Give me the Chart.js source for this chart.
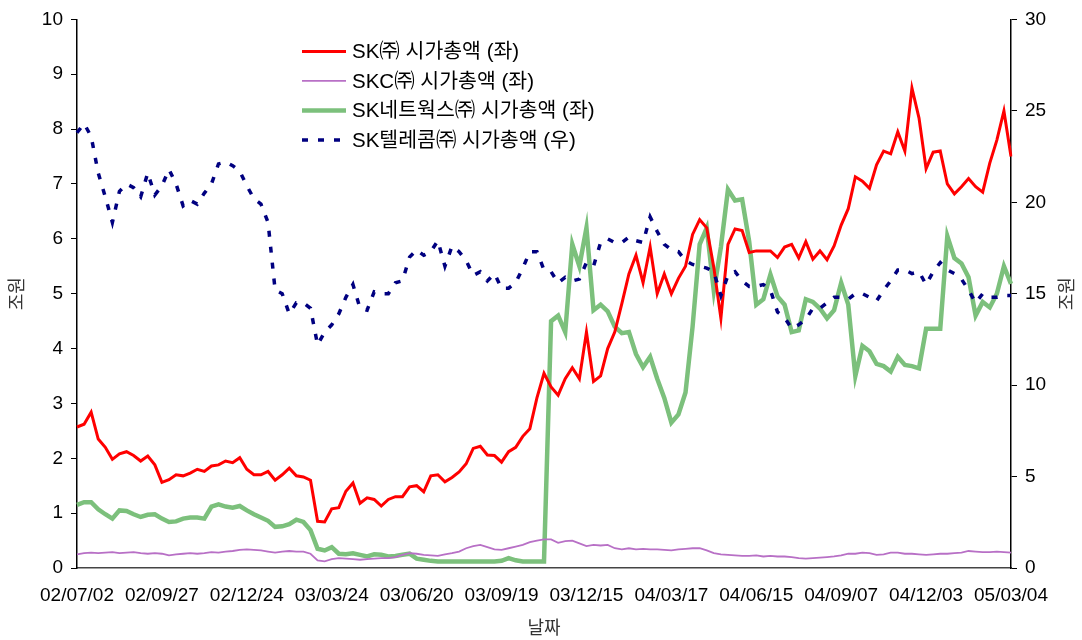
<!DOCTYPE html>
<html><head><meta charset="utf-8">
<script src="https://cdn.jsdelivr.net/npm/chart.js@4.4.1/dist/chart.umd.min.js"></script>
<style>html,body{margin:0;padding:0;background:#fff;}#wrap{width:1082px;height:640px;}</style>
</head><body><div id="wrap"><canvas id="c" width="1082" height="640"></canvas></div>
<script>
// Tick labels (every 12th sample, ~60 trading days)
const dateTicks = ['02/07/02','02/09/27','02/12/24','03/03/24','03/06/20','03/09/19','03/12/15','04/03/17','04/06/15','04/09/07','04/12/03','05/03/04'];
const tickEvery = 12;

// Series names
const seriesNames = ['SK㈜ 시가총액 (좌)', 'SKC㈜ 시가총액 (좌)', 'SK네트웍스㈜ 시가총액 (좌)', 'SK텔레콤㈜ 시가총액 (우)'];

// SK㈜ market cap (조원, left axis)
const skCorp = [
2.57,2.62,2.84,2.35,2.20,1.98,2.08,2.12,2.05,1.95,
2.04,1.88,1.56,1.61,1.70,1.68,1.73,1.80,1.76,1.86,
1.88,1.95,1.92,2.01,1.80,1.70,1.70,1.76,1.60,1.70,
1.82,1.68,1.66,1.60,0.85,0.84,1.08,1.10,1.40,1.55,
1.18,1.28,1.25,1.13,1.25,1.30,1.30,1.48,1.50,1.39,
1.68,1.70,1.57,1.65,1.75,1.90,2.18,2.22,2.06,2.05,
1.93,2.12,2.20,2.40,2.54,3.10,3.55,3.30,3.15,3.45,
3.65,3.45,4.30,3.40,3.50,4.00,4.30,4.82,5.36,5.70,
5.20,5.85,5.00,5.36,5.00,5.28,5.50,6.08,6.35,6.20,
5.48,4.55,5.90,6.18,6.15,5.75,5.78,5.78,5.78,5.66,
5.85,5.90,5.65,5.95,5.63,5.78,5.62,5.87,6.25,6.55,
7.13,7.05,6.92,7.35,7.60,7.55,7.95,7.60,8.75,8.20,
7.28,7.58,7.60,7.00,6.82,6.95,7.10,6.95,6.85,7.38,
7.80,8.33,7.50];

// SKC㈜ market cap (조원, left axis)
const skc = [
0.25,0.27,0.28,0.27,0.28,0.29,0.27,0.28,0.29,0.27,
0.26,0.27,0.26,0.23,0.25,0.26,0.27,0.26,0.27,0.29,
0.28,0.30,0.31,0.33,0.34,0.33,0.32,0.30,0.28,0.30,
0.31,0.30,0.30,0.26,0.14,0.12,0.16,0.18,0.17,0.16,
0.15,0.16,0.17,0.18,0.18,0.20,0.24,0.27,0.26,0.24,
0.23,0.22,0.25,0.27,0.30,0.36,0.40,0.42,0.38,0.34,
0.33,0.36,0.39,0.42,0.47,0.50,0.52,0.52,0.46,0.49,
0.50,0.45,0.40,0.42,0.41,0.42,0.36,0.34,0.36,0.34,
0.35,0.34,0.34,0.33,0.32,0.34,0.35,0.36,0.36,0.32,
0.27,0.25,0.24,0.23,0.22,0.22,0.23,0.21,0.22,0.21,
0.21,0.20,0.18,0.17,0.18,0.19,0.20,0.21,0.23,0.26,
0.26,0.28,0.27,0.24,0.25,0.28,0.28,0.26,0.26,0.25,
0.24,0.25,0.26,0.26,0.27,0.28,0.31,0.30,0.29,0.29,
0.30,0.29,0.28];

// SK네트웍스㈜ market cap (조원, left axis)
const skNetworks = [
1.15,1.20,1.20,1.07,0.98,0.90,1.05,1.04,0.98,0.93,
0.97,0.98,0.90,0.84,0.85,0.90,0.92,0.92,0.90,1.12,
1.16,1.12,1.10,1.13,1.05,0.98,0.92,0.86,0.75,0.76,
0.80,0.88,0.84,0.69,0.35,0.32,0.38,0.26,0.25,0.27,
0.24,0.21,0.25,0.24,0.21,0.22,0.24,0.26,0.17,0.15,
0.13,0.12,0.12,0.12,0.12,0.12,0.12,0.12,0.12,0.12,
0.13,0.18,0.14,0.12,0.12,0.12,0.12,4.50,4.60,4.30,
5.90,5.50,6.20,4.70,4.80,4.68,4.40,4.28,4.30,3.90,
3.66,3.85,3.45,3.10,2.65,2.80,3.20,4.40,5.90,6.20,
5.05,5.85,6.90,6.70,6.72,5.95,4.80,4.90,5.35,4.95,
4.80,4.30,4.33,4.90,4.85,4.73,4.55,4.70,5.20,4.80,
3.50,4.05,3.95,3.72,3.68,3.58,3.85,3.70,3.68,3.64,
4.36,4.36,4.36,6.05,5.65,5.55,5.30,4.60,4.85,4.75,
5.00,5.50,5.18];

// SK텔레콤㈜ market cap (조원, right axis)
const skTelecom = [
23.8,24.3,23.6,21.6,20.3,18.9,20.6,21.0,20.8,20.3,
21.6,20.4,20.9,21.8,21.0,19.8,20.1,19.9,20.5,21.0,
22.1,22.2,22.0,21.7,20.9,20.2,19.9,18.9,15.2,15.0,
13.9,14.5,14.5,14.2,12.2,12.9,13.3,13.9,14.8,15.5,
14.2,14.1,15.1,15.0,15.0,15.6,15.7,17.0,17.4,17.1,
17.3,17.9,16.5,17.6,17.3,16.8,16.0,16.2,15.7,16.1,
15.3,15.3,15.6,16.4,17.3,17.3,16.3,16.2,15.6,15.9,
15.7,15.8,16.7,16.5,17.8,18.0,17.8,17.8,18.1,17.9,
17.8,19.2,18.4,17.7,17.4,17.3,16.8,16.6,16.5,16.4,
16.2,14.9,16.0,16.2,15.7,15.4,15.4,15.5,15.2,14.0,
13.7,13.1,13.3,13.6,14.2,14.2,14.5,14.8,14.8,14.7,
15.0,15.0,14.8,14.6,15.2,15.7,16.3,16.3,16.1,16.2,
15.5,16.2,16.7,16.3,16.1,15.8,15.2,14.5,15.0,14.8,
14.8,14.9,14.9];

const categories = skCorp.map((_, i) => i);
const FONT = "'Liberation Sans', 'Noto Sans CJK KR', Arial, sans-serif";

const legendStyles = [
  {color:'#ff0000', width:3, dash:[]},
  {color:'#b870c6', width:1.8, dash:[]},
  {color:'#7cc07c', width:4.5, dash:[]},
  {color:'#000080', width:3.5, dash:[6,10]}
];

const overlay = {
  id:'overlay',
  afterDraw(chart){
    const ctx = chart.ctx, ca = chart.chartArea;
    ctx.save();
    // right axis title
    ctx.fillStyle = '#333';
    ctx.font = "18px " + FONT;
    ctx.textAlign = 'center'; ctx.textBaseline = 'middle';
    ctx.translate(1068, (ca.top + ca.bottom) / 2);
    ctx.rotate(-Math.PI / 2);
    ctx.fillText('조원', 0, 0);
    ctx.restore();
    // legend
    ctx.save();
    const lx = ca.left + 225, ly = ca.top + 32, gap = 29.5;
    seriesNames.forEach((name, k) => {
      const st = legendStyles[k], y = ly + k * gap;
      ctx.beginPath();
      ctx.strokeStyle = st.color; ctx.lineWidth = st.width; ctx.setLineDash(st.dash);
      ctx.moveTo(lx, y); ctx.lineTo(lx + 44, y); ctx.stroke();
      ctx.setLineDash([]);
      ctx.fillStyle = '#000'; ctx.font = "20.5px " + FONT;
      ctx.textAlign = 'left'; ctx.textBaseline = 'middle';
      ctx.fillText(name, lx + 50, y + 1);
    });
    ctx.restore();
  }
};

new Chart(document.getElementById('c'), {
  type:'line',
  data:{
    labels: categories,
    datasets:[
      {label:seriesNames[0], data:skCorp, yAxisID:'y', borderColor:'#ff0000', borderWidth:3, order:1},
      {label:seriesNames[1], data:skc, yAxisID:'y', borderColor:'#b870c6', borderWidth:1.8, order:2},
      {label:seriesNames[2], data:skNetworks, yAxisID:'y', borderColor:'#7cc07c', borderWidth:4.5, order:3},
      {label:seriesNames[3], data:skTelecom, yAxisID:'y1', borderColor:'#000080', borderWidth:3.5, borderDash:[6,10], order:0}
    ]
  },
  options:{
    responsive:false, animation:false, devicePixelRatio:1,
    layout:{padding:{top:18, left:0, right:0, bottom:0}},
    elements:{point:{radius:0}, line:{tension:0, fill:false}},
    plugins:{legend:{display:false}, tooltip:{enabled:false}},
    scales:{
      x:{
        type:'category', offset:false,
        grid:{display:false, drawTicks:false},
        border:{display:true, color:'#444', width:1.5},
        ticks:{autoSkip:false, maxRotation:0, minRotation:0, padding:16, color:'#000',
          font:{family:FONT, size:19},
          callback:(v, i) => (i % tickEvery === 0 ? dateTicks[i / tickEvery] : null)},
        title:{display:true, text:'날짜', color:'#333', font:{family:FONT, size:18}, padding:{top:1, bottom:0}},
        afterFit:s => { s.height = 72; }
      },
      y:{
        position:'left', min:0, max:10,
        grid:{display:true, drawOnChartArea:false, drawTicks:true, tickLength:6, color:'#000'},
        border:{display:true, color:'#000', width:1.5},
        ticks:{stepSize:1, padding:8, color:'#000', font:{family:FONT, size:19}},
        title:{display:true, text:'조원', color:'#333', font:{family:FONT, size:18}, padding:{top:7, bottom:0}},
        afterFit:s => { s.width = 77; }
      },
      y1:{
        position:'right', min:0, max:30,
        grid:{display:true, drawOnChartArea:false, drawTicks:true, tickLength:6, color:'#000'},
        border:{display:true, color:'#000', width:1.5},
        ticks:{stepSize:5, padding:8, color:'#000', font:{family:FONT, size:19}},
        afterFit:s => { s.width = 71; }
      }
    }
  },
  plugins:[overlay]
});
</script></body></html>
